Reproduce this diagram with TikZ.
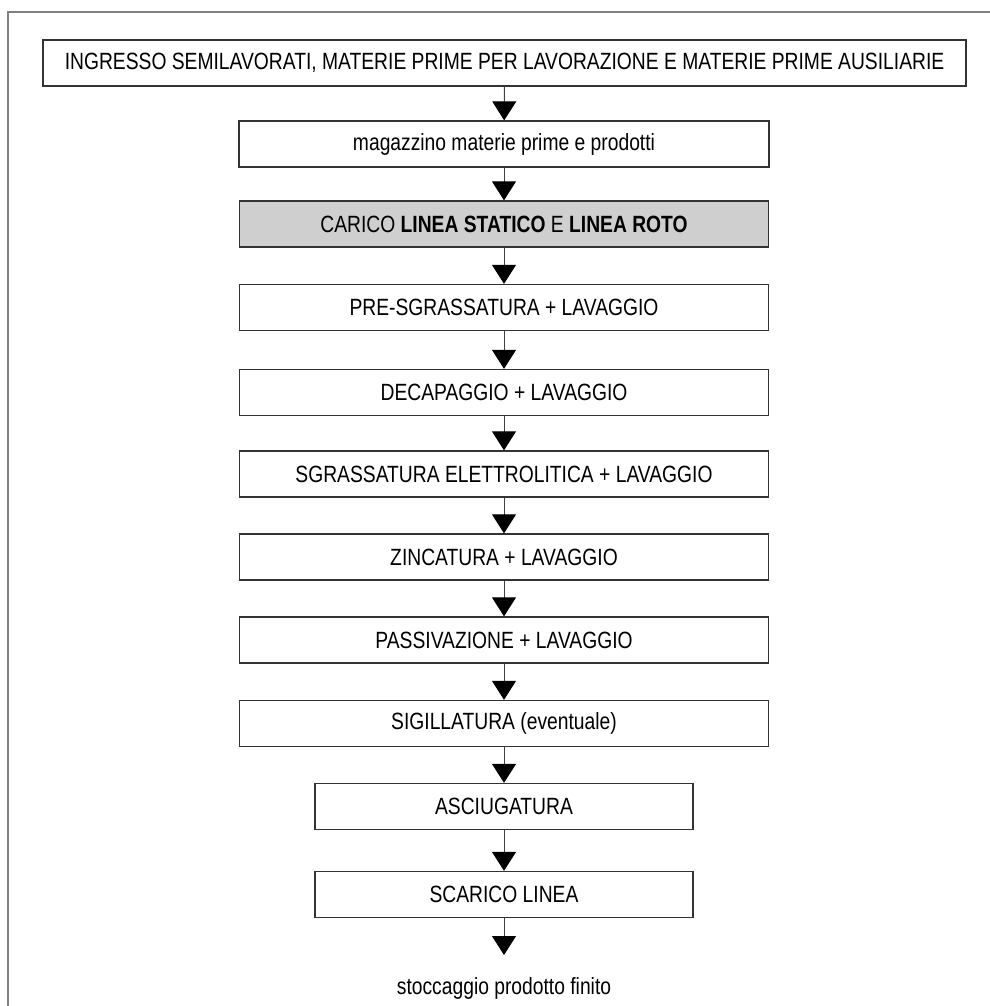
\documentclass[tikz,border=0pt]{standalone}
\usepackage{fontspec}
\setmainfont[FakeStretch=0.82]{Liberation Sans}
\usetikzlibrary{arrows.meta}
\begin{document}
\begin{tikzpicture}[x=1pt,y=-1pt,
  stepbox/.style={draw=black!80, line width=1.3pt, fill=white, inner sep=0pt,
    minimum height=46pt, font=\fontsize{23.5}{27}\selectfont},
  graybox/.style={stepbox, fill=black!19},
  flow/.style={draw=black!75, line width=1pt,
    -{Triangle[width=24pt,length=19pt,color=black]}},
  frameline/.style={draw=black!50, line width=2pt}
]
\useasboundingbox (0,0) rectangle (989,1006);
\draw[frameline] (8,1007) -- (8,12) -- (990,12);

\node[stepbox, minimum width=923pt] (b1) at (504.5,63)
  {INGRESSO SEMILAVORATI, MATERIE PRIME PER LAVORAZIONE E MATERIE PRIME AUSILIARIE};
\node[stepbox, minimum width=530pt] (b2) at (504,144) {magazzino materie prime e prodotti};
\node[graybox, minimum width=529pt] (b3) at (504,224)
  {CARICO \textbf{LINEA STATICO} E \textbf{LINEA ROTO}};
\node[stepbox, minimum width=529pt] (b4) at (504,307.5) {PRE-SGRASSATURA + LAVAGGIO};
\node[stepbox, minimum width=529pt] (b5) at (504,392.5) {DECAPAGGIO + LAVAGGIO};
\node[stepbox, minimum width=529pt] (b6) at (504,474) {SGRASSATURA ELETTROLITICA + LAVAGGIO};
\node[stepbox, minimum width=529pt] (b7) at (504,557) {ZINCATURA + LAVAGGIO};
\node[stepbox, minimum width=529pt] (b8) at (504,640) {PASSIVAZIONE + LAVAGGIO};
\node[stepbox, minimum width=529pt] (b9) at (504,723.5) {SIGILLATURA (eventuale)};
\node[stepbox, minimum width=378pt] (b10) at (504,806.5) {ASCIUGATURA};
\node[stepbox, minimum width=378pt] (b11) at (504,894.5) {SCARICO LINEA};
\coordinate (tip) at (504,955);
\node[font=\fontsize{23.5}{27}\selectfont, inner sep=0pt, anchor=base] (end) at (504,994)
  {stoccaggio prodotto finito};

\draw[flow] (b1) -- (b2);
\draw[flow] (b2) -- (b3);
\draw[flow] (b3) -- (b4);
\draw[flow] (b4) -- (b5);
\draw[flow] (b5) -- (b6);
\draw[flow] (b6) -- (b7);
\draw[flow] (b7) -- (b8);
\draw[flow] (b8) -- (b9);
\draw[flow] (b9) -- (b10);
\draw[flow] (b10) -- (b11);
\draw[flow] (b11) -- (tip);
\end{tikzpicture}
\end{document}
